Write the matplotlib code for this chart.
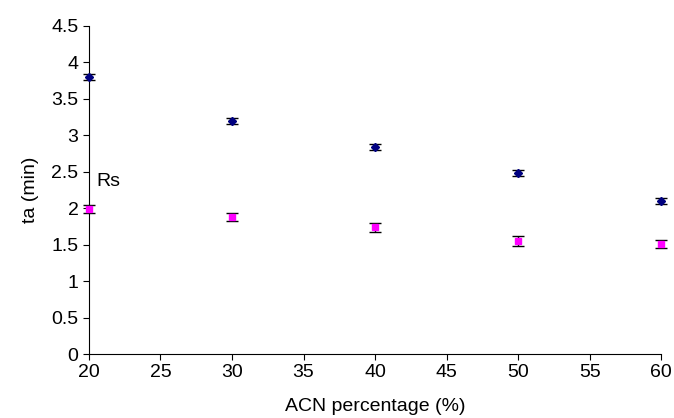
import matplotlib.pyplot as plt
import numpy as np

plt.rcParams['font.family'] = ['Liberation Sans', 'DejaVu Sans']

acn = [20, 30, 40, 50, 60]
ta_blue = [3.80, 3.20, 2.84, 2.48, 2.10]
err_blue = [0.04, 0.04, 0.04, 0.04, 0.04]
ta_pink = [1.99, 1.88, 1.74, 1.55, 1.51]
err_pink = [0.05, 0.06, 0.06, 0.07, 0.06]

fig = plt.figure(figsize=(6.74, 4.18), dpi=100)
ax = fig.add_axes([0.132, 0.153, 0.849, 0.785])

ax.errorbar(acn, ta_blue, yerr=err_blue, fmt='D', color='#000080', markersize=4,
            ecolor='black', elinewidth=1, capsize=4, capthick=1, clip_on=False, zorder=3)
ax.errorbar(acn, ta_pink, yerr=err_pink, fmt='s', color='#FF00FF', markersize=4,
            ecolor='black', elinewidth=1, capsize=4, capthick=1, clip_on=False, zorder=3)

ax.text(20.55, 2.36, 'Rs', fontsize=14, va='center', ha='left')

ax.set_xlim(20, 60)
ax.set_ylim(0, 4.5)
ax.set_xticks(np.arange(20, 61, 5))
ax.set_yticks(np.arange(0, 4.6, 0.5))
ax.set_yticklabels(['0', '0.5', '1', '1.5', '2', '2.5', '3', '3.5', '4', '4.5'])
ax.tick_params(labelsize=14, direction='out', length=4)
ax.set_xlabel('ACN percentage (%)', fontsize=14, labelpad=12)
ax.set_ylabel('ta (min)', fontsize=14, labelpad=9)
ax.spines['top'].set_visible(False)
ax.spines['right'].set_visible(False)

fig.savefig('out.png', dpi=100)
